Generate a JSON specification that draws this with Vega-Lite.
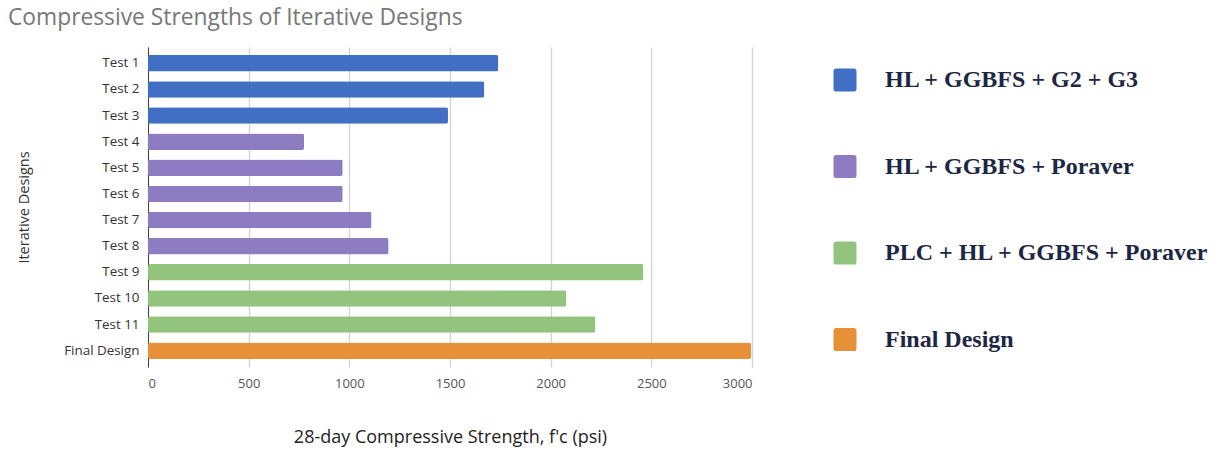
{
  "$schema": "https://vega.github.io/schema/vega-lite/v6.json",
  "autosize": {"type": "none"},
  "width": 604,
  "height": 320,
  "padding": {"left": 148, "top": 47, "right": 466, "bottom": 85},
  "background": "white",
  "title": {
    "text": "Compressive Strengths of Iterative Designs",
    "anchor": "start",
    "frame": "group",
    "dx": -140,
    "offset": 17,
    "font": "Open Sans",
    "fontSize": 22.8,
    "fontWeight": "normal",
    "color": "#777777"
  },
  "data": {
    "values": [
      {"design": "Test 1", "strength": 1740, "group": "HL + GGBFS + G2 + G3"},
      {"design": "Test 2", "strength": 1670, "group": "HL + GGBFS + G2 + G3"},
      {"design": "Test 3", "strength": 1490, "group": "HL + GGBFS + G2 + G3"},
      {"design": "Test 4", "strength": 775, "group": "HL + GGBFS + Poraver"},
      {"design": "Test 5", "strength": 967, "group": "HL + GGBFS + Poraver"},
      {"design": "Test 6", "strength": 967, "group": "HL + GGBFS + Poraver"},
      {"design": "Test 7", "strength": 1110, "group": "HL + GGBFS + Poraver"},
      {"design": "Test 8", "strength": 1195, "group": "HL + GGBFS + Poraver"},
      {"design": "Test 9", "strength": 2460, "group": "PLC + HL + GGBFS + Poraver"},
      {"design": "Test 10", "strength": 2078, "group": "PLC + HL + GGBFS + Poraver"},
      {"design": "Test 11", "strength": 2222, "group": "PLC + HL + GGBFS + Poraver"},
      {"design": "Final Design", "strength": 2995, "group": "Final Design"}
    ]
  },
  "mark": {"type": "bar", "cornerRadius": 2},
  "encoding": {
    "y": {
      "field": "design",
      "type": "nominal",
      "sort": null,
      "scale": {"paddingInner": 0.37, "paddingOuter": 0.31},
      "axis": {
        "title": "Iterative Designs",
        "titleFont": "Open Sans",
        "titleFontSize": 14.5,
        "titleFontWeight": "normal",
        "titleColor": "#333333",
        "titlePadding": 32,
        "labelFont": "Open Sans",
        "labelFontSize": 13.4,
        "labelColor": "#333333",
        "labelPadding": 9,
        "ticks": false,
        "domain": true,
        "domainColor": "#444444",
        "domainWidth": 1,
        "grid": false
      }
    },
    "x": {
      "field": "strength",
      "type": "quantitative",
      "scale": {"domain": [0, 3000], "nice": false},
      "axis": {
        "title": "28-day Compressive Strength, f'c (psi)",
        "titleFont": "Open Sans",
        "titleFontSize": 18,
        "titleFontWeight": "normal",
        "titleColor": "#222222",
        "titlePadding": 38,
        "values": [0, 500, 1000, 1500, 2000, 2500, 3000],
        "format": "d",
        "labelFont": "Open Sans",
        "labelFontSize": 13,
        "labelColor": "#555555",
        "labelPadding": 10,
        "ticks": false,
        "domain": false,
        "grid": true,
        "gridColor": "#d4d4d4",
        "gridWidth": 1.4
      }
    },
    "color": {
      "field": "group",
      "type": "nominal",
      "scale": {
        "domain": ["HL + GGBFS + G2 + G3", "HL + GGBFS + Poraver", "PLC + HL + GGBFS + Poraver", "Final Design"],
        "range": ["#416fc3", "#8e7cc3", "#93c47d", "#e69138"]
      },
      "legend": {
        "title": null,
        "orient": "none",
        "legendX": 685,
        "legendY": 21,
        "symbolType": "M -0.75,-1 L 0.75,-1 Q 1,-1 1,-0.75 L 1,0.75 Q 1,1 0.75,1 L -0.75,1 Q -1,1 -1,0.75 L -1,-0.75 Q -1,-1 -0.75,-1 Z",
        "symbolSize": 529,
        "symbolStrokeWidth": 0,
        "symbolOpacity": 1,
        "labelFont": "Liberation Serif",
        "labelFontSize": 24,
        "labelFontWeight": "bold",
        "labelColor": "#1d2643",
        "labelOffset": 28,
        "labelLimit": 400,
        "rowPadding": 62.5
      }
    }
  },
  "config": {"view": {"stroke": null}}
}
